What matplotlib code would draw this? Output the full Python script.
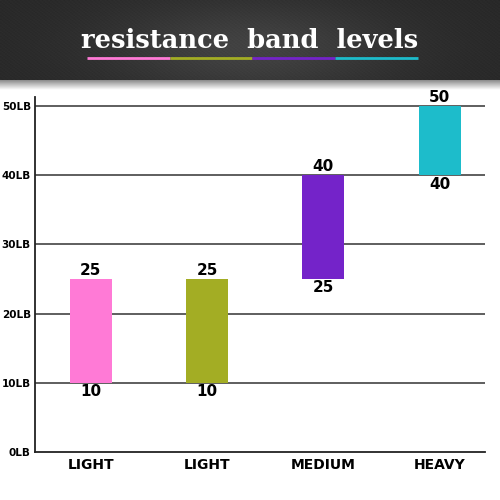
import numpy as np
import matplotlib
matplotlib.use("Agg")
import matplotlib.pyplot as plt

# band levels (lb)
categories = ["LIGHT", "LIGHT", "MEDIUM", "HEAVY"]
low_vals = [10, 10, 25, 40]
high_vals = [25, 25, 40, 50]
colors = ["#ff7ad6", "#a3ad24", "#7423c9", "#1dbccb"]
yticks = [0, 10, 20, 30, 40, 50]
ytick_labels = ["0LB", "10LB", "20LB", "30LB", "40LB", "50LB"]
title = "resistance  band  levels"

fig = plt.figure(figsize=(5, 5), dpi=100)
fig.patch.set_facecolor("white")

# dark header with a soft gradient
hdr = fig.add_axes([0, 0.84, 1, 0.16])
gx = np.linspace(-1, 1, 300)
gy = np.linspace(-1, 1, 60)
X, Y = np.meshgrid(gx, gy)
shade = 0.16 + 0.10 * np.exp(-(X ** 2) / 0.35 - (Y + 0.2) ** 2 / 1.5)
stripes = 0.012 * np.sin((X * 300 + Y * 60) * 1.2)
img = np.clip(shade + stripes, 0, 1)
hdr.imshow(img, cmap="gray", vmin=0, vmax=1, aspect="auto",
           extent=[0, 1, 0, 1], origin="lower")
hdr.set_xlim(0, 1)
hdr.set_ylim(0, 1)
hdr.axis("off")
hdr.text(0.5, 0.50, title, color="white", fontsize=18.5, fontweight="bold",
         family="DejaVu Serif", ha="center", va="center")
seg_x = np.linspace(0.174, 0.836, len(colors) + 1)
for i, c in enumerate(colors):
    hdr.plot([seg_x[i], seg_x[i + 1]], [0.275, 0.275], color=c, lw=2,
             solid_capstyle="butt")

# shadow under header
sh = fig.add_axes([0, 0.82, 1, 0.02])
sh.imshow(np.linspace(0.55, 1, 20).reshape(-1, 1), cmap="gray", vmin=0,
          vmax=1, aspect="auto", extent=[0, 1, 0, 1])
sh.axis("off")

ax = fig.add_axes([0.07, 0.096, 0.90, 0.71])
x = np.arange(len(categories))
heights = [h - l for l, h in zip(low_vals, high_vals)]
ax.bar(x, heights, bottom=low_vals, width=0.36, color=colors, zorder=3)

for xi, lo, hi in zip(x, low_vals, high_vals):
    ax.text(xi, hi + 0.2, str(hi), ha="center", va="bottom", fontsize=11,
            fontweight="semibold", zorder=4)
    ax.text(xi, lo - 0.2, str(lo), ha="center", va="top", fontsize=11,
            fontweight="semibold", zorder=4)

for yv in yticks[1:]:
    ax.axhline(yv, color="#333333", lw=1.1, zorder=1)

ax.set_xlim(-0.48, 3.39)
ax.set_ylim(0, 51.3)
ax.set_yticks(yticks)
ax.set_yticklabels(ytick_labels, fontsize=7.5, fontweight="bold")
ax.set_xticks(x)
ax.set_xticklabels(categories, fontsize=10, fontweight="bold")
ax.tick_params(axis="both", length=0, pad=3)
ax.tick_params(axis="x", pad=4)
for s in ["top", "right"]:
    ax.spines[s].set_visible(False)
for s in ["left", "bottom"]:
    ax.spines[s].set_linewidth(1.3)
    ax.spines[s].set_color("#222222")

fig.savefig("out.png", dpi=100)
